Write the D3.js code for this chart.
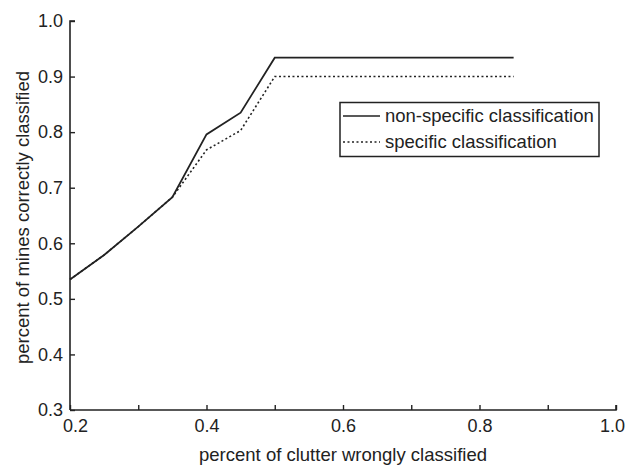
<!DOCTYPE html>
<html>
<head>
<meta charset="utf-8">
<script src="https://cdn.jsdelivr.net/npm/d3@7"></script>
<style>
  html, body { margin: 0; padding: 0; background: #fff; }
  svg { display: block; }
  text { font-family: "Liberation Sans", Arial, Helvetica, sans-serif; fill: #222; }
</style>
</head>
<body>
<svg id="chart" width="626" height="466"></svg>
<script>
// ---- data ----
const xValues = [0.2, 0.25, 0.3, 0.35, 0.4, 0.45, 0.5, 0.85];
const nonSpecific = [0.535, 0.579, 0.63, 0.683, 0.796, 0.835, 0.934, 0.934];
const specific = [0.535, 0.579, 0.63, 0.683, 0.768, 0.803, 0.900, 0.900];
const seriesNames = ["non-specific classification", "specific classification"];
const xTicks = [0.2, 0.3, 0.4, 0.5, 0.6, 0.7, 0.8, 0.9, 1.0];
const xTickLabels = [0.2, 0.4, 0.6, 0.8, 1.0];
const yTicks = [0.3, 0.4, 0.5, 0.6, 0.7, 0.8, 0.9, 1.0];
const xTitle = "percent of clutter wrongly classified";
const yTitle = "percent of mines correctly classified";

// ---- layout ----
const svg = d3.select("#chart");
const mLeft = 70, mRight = 616, mTop = 21, mBottom = 410;
const ink = "#222";
const tickFont = "18px", titleFont = "18.5px", legendFont = "18.5px";

const x = d3.scaleLinear().domain([0.2, 1.0]).range([mLeft, mRight]);
const y = d3.scaleLinear().domain([0.3, 1.0]).range([mBottom, mTop]);

// x axis
const xAxis = d3.axisBottom(x)
  .tickValues(xTicks)
  .tickSizeInner(-5)
  .tickSizeOuter(0)
  .tickFormat(d => xTickLabels.some(v => Math.abs(v - d) < 1e-9) ? d3.format(".1f")(d) : "");
const gx = svg.append("g").attr("transform", `translate(0,${mBottom})`).call(xAxis);
gx.select(".domain").attr("stroke", ink).attr("stroke-width", 1.6)
  .attr("d", `M${mLeft},0H${mRight}V-5`);
gx.selectAll(".tick line").attr("stroke", ink).attr("stroke-width", 1.4);
gx.selectAll(".tick text")
  .attr("y", 9).attr("dy", "0.71em")
  .style("font-size", tickFont).attr("fill", ink)
  .attr("dx", d => Math.abs(d - 0.2) < 1e-9 ? 5 : (Math.abs(d - 1.0) < 1e-9 ? -4 : 0));

// y axis
const yAxis = d3.axisLeft(y)
  .tickValues(yTicks)
  .tickSizeInner(-5)
  .tickSizeOuter(0)
  .tickFormat(d3.format(".1f"));
const gy = svg.append("g").attr("transform", `translate(${mLeft},0)`).call(yAxis);
gy.select(".domain").attr("stroke", ink).attr("stroke-width", 1.6)
  .attr("d", `M5,${mTop}H0V${mBottom}`);
gy.selectAll(".tick line").attr("stroke", ink).attr("stroke-width", 1.4);
gy.selectAll(".tick text")
  .attr("x", -7)
  .style("font-size", tickFont).attr("fill", ink);

// axis titles
svg.append("text")
  .attr("x", 343).attr("y", 461)
  .attr("text-anchor", "middle")
  .style("font-size", titleFont)
  .text(xTitle);
svg.append("text")
  .attr("transform", `translate(29,${(mTop + mBottom) / 2 + 2}) rotate(-90)`)
  .attr("text-anchor", "middle")
  .style("font-size", titleFont)
  .text(yTitle);

// lines
const line = d3.line().x(d => x(d[0])).y(d => y(d[1]));
const solidData = xValues.map((v, i) => [v, nonSpecific[i]]);
const dottedData = xValues.map((v, i) => [v, specific[i]]);

svg.append("path")
  .datum(dottedData)
  .attr("d", line)
  .attr("fill", "none")
  .attr("stroke", ink)
  .attr("stroke-width", 1.6)
  .attr("stroke-dasharray", "2,2.5");
svg.append("path")
  .datum(solidData)
  .attr("d", line)
  .attr("fill", "none")
  .attr("stroke", ink)
  .attr("stroke-width", 1.8);

// legend
const lg = svg.append("g");
lg.append("rect")
  .attr("x", 340).attr("y", 102.5).attr("width", 259).attr("height", 54)
  .attr("fill", "#fff").attr("stroke", ink).attr("stroke-width", 1.5);
const legendY = [116, 142];
seriesNames.forEach((name, i) => {
  lg.append("line")
    .attr("x1", 343).attr("x2", 380)
    .attr("y1", legendY[i]).attr("y2", legendY[i])
    .attr("stroke", ink)
    .attr("stroke-width", i === 0 ? 1.6 : 1.4)
    .attr("stroke-dasharray", i === 0 ? null : "2,2.5");
  lg.append("text")
    .attr("x", 385).attr("y", legendY[i]).attr("dy", "0.35em")
    .style("font-size", legendFont)
    .text(name);
});
</script>
</body>
</html>
